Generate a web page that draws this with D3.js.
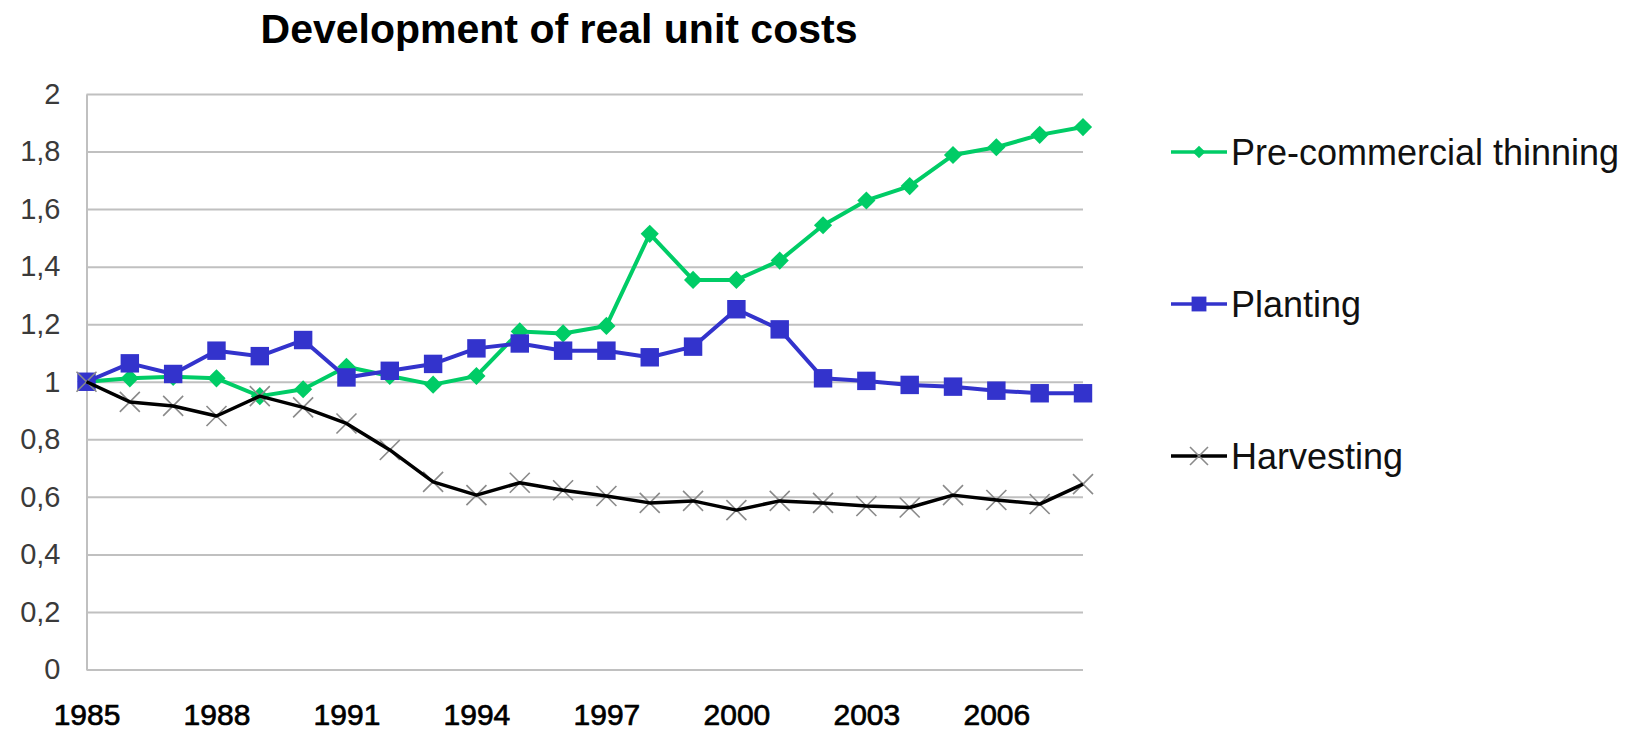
<!DOCTYPE html>
<html>
<head>
<meta charset="utf-8">
<script src="https://cdn.jsdelivr.net/npm/d3@7"></script>
<style>
    html, body { margin: 0; padding: 0; background: #fff; }
    svg { display: block; font-family: "Liberation Sans", Arial, sans-serif; }
</style>
</head>
<body>
<svg id="plot"></svg>
<script>
const WIDTH = 1643;
const HEIGHT = 731;

const TITLE = 'Development of real unit costs';

const years = [1985, 1986, 1987, 1988, 1989, 1990, 1991, 1992, 1993, 1994, 1995, 1996,
               1997, 1998, 1999, 2000, 2001, 2002, 2003, 2004, 2005, 2006, 2007, 2008];
const yearTicks = [1985, 1988, 1991, 1994, 1997, 2000, 2003, 2006];
const valueTicks = [0, 0.2, 0.4, 0.6, 0.8, 1, 1.2, 1.4, 1.6, 1.8, 2];

const preCommercialThinning = [1.00, 1.012, 1.017, 1.012, 0.95, 0.974, 1.052, 1.02, 0.99, 1.02, 1.175, 1.168,
                               1.194, 1.514, 1.354, 1.354, 1.421, 1.544, 1.63, 1.68, 1.788, 1.815, 1.858, 1.885];
const planting = [1.00, 1.064, 1.027, 1.108, 1.089, 1.145, 1.015, 1.038, 1.062, 1.116, 1.133, 1.108,
                  1.108, 1.085, 1.122, 1.252, 1.182, 1.012, 1.003, 0.989, 0.983, 0.969, 0.96, 0.96];
const harvesting = [1.00, 0.93, 0.916, 0.881, 0.95, 0.911, 0.855, 0.763, 0.652, 0.606, 0.649, 0.623,
                    0.603, 0.579, 0.586, 0.554, 0.586, 0.579, 0.568, 0.563, 0.606, 0.589, 0.575, 0.644];

const seriesNames = ['Pre-commercial thinning', 'Planting', 'Harvesting'];

function start() {
    const plotLeft = 86.5, plotRight = 1083;
    const plotTop = 94, plotBottom = 669.5;

    let chart = d3.select('#plot')
        .attr('width', WIDTH)
        .attr('height', HEIGHT);

    let xScale = d3.scaleLinear()
        .domain(d3.extent(years))
        .range([plotLeft, plotRight]);

    let yScale = d3.scaleLinear()
        .domain([0, 2])
        .range([plotBottom, plotTop]);

    const comma = v => d3.format('~g')(v).replace('.', ',');

    // Title
    chart.append('text')
        .attr('x', 559)
        .attr('y', 43)
        .attr('text-anchor', 'middle')
        .attr('font-size', 41)
        .attr('font-weight', 'bold')
        .attr('fill', '#000')
        .text(TITLE);

    // Y axis with gridlines
    let yAxis = chart.append('g')
        .attr('transform', `translate(${plotLeft}, 0)`)
        .call(d3.axisLeft(yScale)
            .tickValues(valueTicks)
            .tickFormat(comma)
            .tickSize(-(plotRight - plotLeft))
            .tickSizeOuter(0)
            .tickPadding(26));
    yAxis.select('.domain').attr('stroke', '#c0c0c0').attr('stroke-width', 2);
    yAxis.selectAll('.tick line').attr('stroke', '#c0c0c0').attr('stroke-width', 2);
    yAxis.selectAll('.tick text')
        .attr('font-size', 29)
        .attr('fill', '#3a3a3a')
        .attr('font-family', '"Liberation Sans", Arial, sans-serif');

    // X axis labels
    let xAxis = chart.append('g')
        .attr('transform', `translate(0, ${plotBottom})`)
        .call(d3.axisBottom(xScale)
            .tickValues(yearTicks)
            .tickFormat(d3.format('d'))
            .tickSize(0)
            .tickPadding(34));
    xAxis.select('.domain').remove();
    xAxis.selectAll('.tick text')
        .attr('font-size', 30)
        .attr('fill', '#000')
        .attr('stroke', '#000')
        .attr('stroke-width', 0.7)
        .attr('font-family', '"Liberation Sans", Arial, sans-serif');

    let line = d3.line()
        .x((d, i) => xScale(years[i]))
        .y(d => yScale(d));

    const diamond = d3.symbol(d3.symbolSquare, 165);
    const square = d3.symbol(d3.symbolSquare, 340);

    // Pre-commercial thinning
    chart.append('path')
        .datum(preCommercialThinning)
        .attr('d', line)
        .attr('fill', 'none')
        .attr('stroke', '#00cc66')
        .attr('stroke-width', 4)
        .attr('stroke-linejoin', 'round');
    chart.append('g')
        .selectAll('path')
        .data(preCommercialThinning)
        .enter().append('path')
            .attr('d', diamond)
            .attr('fill', '#00cc66')
            .attr('transform', (d, i) => `translate(${xScale(years[i])}, ${yScale(d)}) rotate(45)`);

    // Planting
    chart.append('path')
        .datum(planting)
        .attr('d', line)
        .attr('fill', 'none')
        .attr('stroke', '#3333cc')
        .attr('stroke-width', 4)
        .attr('stroke-linejoin', 'round');
    chart.append('g')
        .selectAll('path')
        .data(planting)
        .enter().append('path')
            .attr('d', square)
            .attr('fill', '#3333cc')
            .attr('transform', (d, i) => `translate(${xScale(years[i])}, ${yScale(d)})`);

    // Harvesting
    chart.append('g')
        .selectAll('path')
        .data(harvesting)
        .enter().append('path')
            .attr('d', 'M-10,-10L10,10M-10,10L10,-10')
            .attr('stroke', '#8a8a8a')
            .attr('stroke-width', 1.6)
            .attr('fill', 'none')
            .attr('transform', (d, i) => `translate(${xScale(years[i])}, ${yScale(d)})`);
    chart.append('path')
        .datum(harvesting)
        .attr('d', line)
        .attr('fill', 'none')
        .attr('stroke', '#000')
        .attr('stroke-width', 3.5)
        .attr('stroke-linejoin', 'round');

    // Legend
    const legendY = [152, 304, 456];
    const legendColors = ['#00cc66', '#3333cc', '#000'];
    let legend = chart.append('g')
        .selectAll('g')
        .data(seriesNames)
        .enter().append('g')
            .attr('transform', (d, i) => `translate(1171, ${legendY[i]})`);
    legend.append('line')
        .attr('x1', 0).attr('x2', 56)
        .attr('stroke', (d, i) => legendColors[i])
        .attr('stroke-width', 3.5);
    legend.each(function(d, i) {
        let g = d3.select(this);
        if (i === 0) {
            g.append('path').attr('d', d3.symbol(d3.symbolSquare, 80)).attr('fill', legendColors[i])
                .attr('transform', 'translate(28,0) rotate(45)');
        } else if (i === 1) {
            g.append('path').attr('d', d3.symbol(d3.symbolSquare, 220)).attr('fill', legendColors[i])
                .attr('transform', 'translate(28,0)');
        } else {
            g.append('path').attr('d', 'M-9,-9L9,9M-9,9L9,-9')
                .attr('stroke', '#8a8a8a').attr('stroke-width', 1.6)
                .attr('transform', 'translate(28,0)');
        }
    });
    legend.append('text')
        .attr('x', 60)
        .attr('dy', '0.36em')
        .attr('font-size', 36)
        .attr('fill', '#111')
        .text(d => d);
}

window.onload = start;
</script>
</body>
</html>
